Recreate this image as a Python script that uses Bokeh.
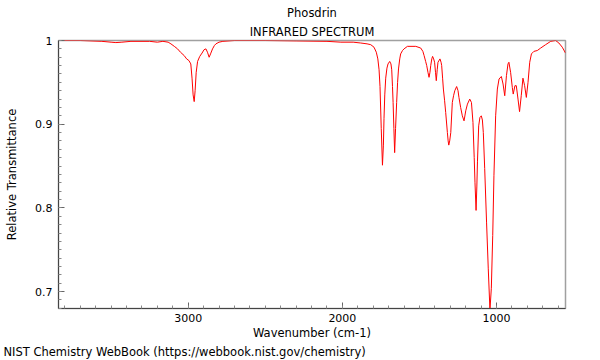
from bokeh.plotting import figure
from bokeh.models import Range1d, FixedTicker, NumeralTickFormatter, Title
from bokeh.embed import file_html
from bokeh.resources import INLINE

title_name = "Phosdrin"
title_kind = "INFRARED SPECTRUM"
x_label = "Wavenumber (cm-1)"
y_label = "Relative Transmittance"
credit = "NIST Chemistry WebBook (https://webbook.nist.gov/chemistry)"

wavenumber = [
    3838, 3700, 3560, 3500, 3469, 3430, 3371, 3250, 3200, 3164, 3130, 3112, 3090, 3069,
    3050, 3026, 3010, 2995, 2983, 2975, 2968, 2961, 2955, 2948, 2939, 2925, 2910, 2897,
    2885, 2875, 2864, 2855, 2842, 2830, 2820, 2800, 2775, 2700, 2500, 2300, 2100, 2010,
    1930, 1881, 1840, 1816, 1795, 1780, 1770, 1762, 1756, 1748, 1740, 1734, 1730, 1725,
    1719, 1711, 1704, 1693, 1685, 1680, 1675, 1671, 1666, 1661, 1655, 1648, 1642, 1636,
    1628, 1622, 1610, 1600, 1578, 1524, 1492, 1478, 1470, 1460, 1453, 1445, 1438, 1432,
    1427, 1420, 1415, 1408, 1402, 1396, 1391, 1385, 1380, 1367, 1360, 1356, 1350, 1345,
    1337, 1330, 1319, 1314, 1310, 1304, 1297, 1287, 1279, 1271, 1259, 1250, 1244, 1233,
    1222, 1211, 1200, 1189, 1174, 1163, 1153, 1145, 1140, 1133, 1128, 1124, 1116, 1108,
    1099, 1092, 1086, 1077, 1065, 1054, 1043, 1034, 1025, 1017, 1006, 995, 984, 969,
    958, 947, 936, 926, 920, 909, 898, 892, 881, 872, 861, 851, 840, 829,
    818, 807, 796, 785, 774, 758, 736, 714, 682, 649, 617, 596, 574, 553,
]
transmittance = [
    1.000, 1.000, 0.999, 0.998, 0.9975, 0.998, 0.999, 0.999, 0.998, 0.999, 0.998, 0.996, 0.993, 0.990,
    0.986, 0.982, 0.978, 0.976, 0.972, 0.955, 0.935, 0.927, 0.940, 0.962, 0.975, 0.981, 0.985, 0.989,
    0.990, 0.986, 0.980, 0.984, 0.990, 0.994, 0.996, 0.998, 0.999, 1.000, 1.000, 0.9995, 0.999, 0.998,
    0.998, 0.997, 0.996, 0.995, 0.992, 0.986, 0.978, 0.965, 0.945, 0.895, 0.851, 0.875, 0.907, 0.935,
    0.955, 0.967, 0.972, 0.975, 0.972, 0.965, 0.945, 0.926, 0.895, 0.866, 0.895, 0.926, 0.950, 0.966,
    0.978, 0.984, 0.988, 0.990, 0.993, 0.993, 0.991, 0.987, 0.982, 0.975, 0.970, 0.962, 0.956, 0.962,
    0.970, 0.978, 0.981, 0.978, 0.974, 0.962, 0.952, 0.965, 0.974, 0.978, 0.974, 0.970, 0.955, 0.942,
    0.928, 0.914, 0.890, 0.880, 0.875, 0.880, 0.890, 0.926, 0.934, 0.940, 0.945, 0.940, 0.932, 0.920,
    0.910, 0.904, 0.916, 0.924, 0.930, 0.926, 0.902, 0.860, 0.830, 0.797, 0.825, 0.855, 0.898, 0.908,
    0.910, 0.905, 0.890, 0.847, 0.783, 0.728, 0.678, 0.704, 0.767, 0.839, 0.910, 0.942, 0.954, 0.957,
    0.948, 0.934, 0.958, 0.972, 0.974, 0.962, 0.944, 0.936, 0.946, 0.946, 0.930, 0.915, 0.934, 0.955,
    0.946, 0.932, 0.950, 0.974, 0.984, 0.987, 0.988, 0.991, 0.995, 0.999, 1.000, 0.997, 0.992, 0.985,
]

x_major = [1000, 2000, 3000]
x_minor = list(range(600, 3900, 100))
y_major = [0.7, 0.8, 0.9, 1.0]
y_minor = [round(0.68 + 0.01 * i, 2) for i in range(33)]

FONT = "DejaVu Sans"

p = figure(
    width=600, height=360,
    output_backend="svg", toolbar_location=None,
    x_range=Range1d(3841, 553), y_range=Range1d(0.6798, 1.0),
    min_border_left=58, min_border_right=35, min_border_top=40, min_border_bottom=52,
)
p.background_fill_color = "white"
p.border_fill_color = "white"
p.outline_line_color = "#a0a0a0"
p.outline_line_width = 1.5
p.xgrid.visible = False
p.ygrid.visible = False

p.line(wavenumber, transmittance, line_color="#ff0000", line_width=1)

for ax in (p.xaxis[0], p.yaxis[0]):
    ax.major_tick_in = 6
    ax.major_tick_out = 0
    ax.minor_tick_in = 3
    ax.minor_tick_out = 0
    ax.axis_line_color = "#444444"
    ax.major_tick_line_color = "#666666"
    ax.minor_tick_line_color = "#888888"
    ax.major_label_text_font = FONT
    ax.major_label_text_font_size = "11px"
    ax.major_label_text_color = "black"
    ax.axis_label_text_font = FONT
    ax.axis_label_text_font_size = "11.5px"
    ax.axis_label_text_font_style = "normal"
    ax.axis_label_text_color = "black"

p.xaxis.ticker = FixedTicker(ticks=x_major, minor_ticks=x_minor)
p.yaxis.ticker = FixedTicker(ticks=y_major, minor_ticks=y_minor)
p.xaxis.formatter = NumeralTickFormatter(format="0")
p.yaxis.formatter = NumeralTickFormatter(format="0.[0]")
p.xaxis.axis_label = x_label
p.yaxis.axis_label = y_label
p.xaxis.major_label_standoff = 5
p.xaxis.axis_label_standoff = 1
p.yaxis.major_label_standoff = 6
p.yaxis.axis_label_standoff = 13

# the figure's own title is the upper line; the added one sits nearest the frame
p.title.text = title_name
p.title.align = "center"
p.title.text_font = FONT
p.title.text_font_size = "11.5px"
p.title.text_font_style = "normal"
p.title.text_color = "black"
p.title.standoff = 4

p.add_layout(Title(text=title_kind, align="center", text_font=FONT, text_font_size="11.5px",
                   text_font_style="normal", text_color="black", standoff=3), "above")

p.add_layout(Title(text=credit, align="left", offset=-55, text_font=FONT, text_font_size="11.5px",
                   text_font_style="normal", text_color="black", standoff=0), "below")

open("out.html", "w").write(file_html(p, INLINE))
